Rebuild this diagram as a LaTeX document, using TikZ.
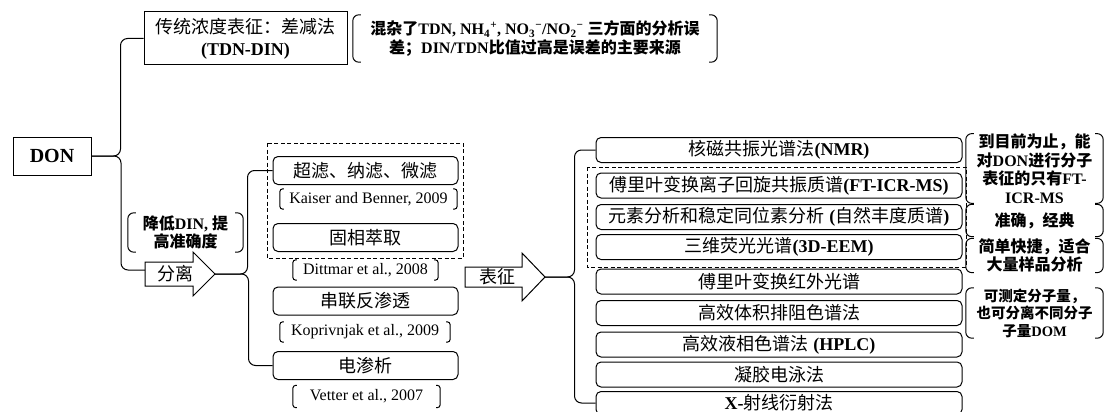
\documentclass[tikz,border=0pt]{standalone}
\usepackage{fontspec}
\setmainfont{Liberation Serif}
\newfontfamily\cjk{Noto Sans CJK SC}
\newcommand\zh[1]{{\cjk #1}}
\tikzset{
 sbox/.style={draw, line width=1pt, inner sep=0pt, align=center},
 rbox/.style={draw, line width=1pt, rounded corners=5pt, inner sep=0pt, font=\fontsize{18}{21}\selectfont},
 lbox/.style={rbox, minimum width=185pt, minimum height=28pt},
 rcol/.style={rbox, minimum width=366pt, minimum height=25pt},
 note/.style={inner sep=0pt, align=center, font=\bfseries\fontsize{16}{18.5}\selectfont},
 smallnote/.style={inner sep=0pt, align=center, font=\bfseries\fontsize{14.5}{17.5}\selectfont},
 cite/.style={inner sep=0pt, font=\fontsize{16}{18}\selectfont},
 paren/.style={line width=1pt, rounded corners=6pt},
 cparen/.style={line width=1pt, rounded corners=3pt},
 conn/.style={line width=1pt, rounded corners=7pt},
 frame/.style={line width=1pt, dash pattern=on 4pt off 2.5pt},
 arrowshape/.style={draw, line width=1pt, line join=miter},
 arrowtext/.style={inner sep=0pt, font=\fontsize{18}{21}\selectfont}
}
% brackets around a node: #1 style, #2 node, #3 hook length
\newcommand\brk[3]{%
 \draw[#1] ([xshift=#3]#2.north west) -- (#2.north west) -- (#2.south west) -- ([xshift=#3]#2.south west);
 \draw[#1] ([xshift=-#3]#2.north east) -- (#2.north east) -- (#2.south east) -- ([xshift=-#3]#2.south east);}
\begin{document}
\begin{tikzpicture}[x=1pt,y=-1pt]
\useasboundingbox (0,0) rectangle (1106,412);
\clip (0,0) rectangle (1106,412);

% root and traditional method
\node[sbox, minimum width=78pt, minimum height=38pt, font=\bfseries\fontsize{20}{24}\selectfont] (don) at (52,156) {DON};
\node[sbox, minimum width=203pt, minimum height=53pt, font=\fontsize{18}{22}\selectfont] (trad) at (245.5,38.5) {\zh{传统浓度表征：差减法}\\\textbf{(TDN-DIN)}};
\node[note, minimum width=364pt, minimum height=47pt] (n1) at (535,38.5) {\zh{混杂了}TDN, NH\textsubscript{4}\textsuperscript{+}, NO\textsubscript{3}\textsuperscript{−}/NO\textsubscript{2}\textsuperscript{−} \zh{三方面的分析误}\\\zh{差；}DIN/TDN\zh{比值过高是误差的主要来源}};
\brk{paren}{n1}{8pt}

% separation arrow
\draw[arrowshape] (145,262) -- (193,262) -- (193,252) -- (215,274) -- (193,296) -- (193,286) -- (145,286) -- cycle;
\node[arrowtext] (sep) at (175,274) {\zh{分离}};
\coordinate (sepin) at (145,270);
\coordinate (septip) at (215,274);
\node[note, minimum width=115pt, minimum height=39pt] (n2) at (185.5,232.5) {\zh{降低}DIN, \zh{提}\\\zh{高准确度}};
\brk{paren}{n2}{8pt}

% separation methods
\draw[frame] (267,143) rectangle (463,258);
\node[lbox] (f1) at (365.5,170.5) {\zh{超滤、纳滤、微滤}};
\node[cite, minimum width=177pt, minimum height=20pt] (c1) at (368.5,199) {Kaiser and Benner, 2009};
\brk{cparen}{c1}{4pt}
\node[lbox] (f2) at (365.5,237.5) {\zh{固相萃取}};
\node[cite, minimum width=145pt, minimum height=20pt] (c2) at (365.5,270) {Dittmar et al., 2008};
\brk{cparen}{c2}{4pt}
\node[lbox] (f3) at (365.5,301) {\zh{串联反渗透}};
\node[cite, minimum width=170pt, minimum height=20pt] (c3) at (365,332) {Koprivnjak et al., 2009};
\brk{cparen}{c3}{4pt}
\node[lbox] (f4) at (365.5,365.5) {\zh{电渗析}};
\node[cite, minimum width=147pt, minimum height=22pt] (c4) at (366.5,396.5) {Vetter et al., 2007};
\brk{cparen}{c4}{4pt}

% characterisation arrow
\draw[arrowshape] (465,267) -- (522,267) -- (522,253) -- (545,277) -- (522,301) -- (522,287) -- (465,287) -- cycle;
\node[arrowtext] (char) at (497,277) {\zh{表征}};
\coordinate (chartip) at (545,277);

% characterisation methods
\draw[frame] (587,167) rectangle (966,267);
\node[rcol] (r1) at (779,150) {\zh{核磁共振光谱法}\textbf{(NMR)}};
\node[rcol] (r2) at (779,185.5) {\zh{傅里叶变换离子回旋共振质谱}\textbf{(FT-ICR-MS)}};
\node[rcol] (r3) at (779,217) {\zh{元素分析和稳定同位素分析} \textbf{(}\zh{自然丰度质谱}\textbf{)}};
\node[rcol] (r4) at (779,247) {\zh{三维荧光光谱}\textbf{(3D-EEM)}};
\node[rcol] (r5) at (779,281.5) {\zh{傅里叶变换红外光谱}};
\node[rcol] (r6) at (779,313) {\zh{高效体积排阻色谱法}};
\node[rcol] (r7) at (779,344.5) {\zh{高效液相色谱法} \textbf{(HPLC)}};
\node[rcol] (r8) at (779,374.5) {\zh{凝胶电泳法}};
\node[rcol, minimum height=23pt] (r9) at (779,403) {\textbf{X-}\zh{射线衍射法}};

% right notes
\node[note, minimum width=137pt, minimum height=66pt] (m1) at (1034.5,168.5) {\zh{到目前为止，能}\\\zh{对}DON\zh{进行分子}\\\zh{表征的只有}FT-\\ICR-MS};
\brk{paren}{m1}{8pt}
\node[note, minimum width=137pt, minimum height=32pt] (m2) at (1034.5,220.5) {\zh{准确，经典}};
\brk{paren}{m2}{8pt}
\node[note, minimum width=137pt, minimum height=31pt] (m3) at (1034.5,255.5) {\zh{简单快捷，适合}\\\zh{大量样品分析}};
\brk{paren}{m3}{8pt}
\node[smallnote, minimum width=137pt, minimum height=50pt] (m4) at (1034.5,313) {\zh{可测定分子量，}\\\zh{也可分离不同分子}\\\zh{子量}DOM};
\brk{paren}{m4}{8pt}

% braces
\draw[conn] (don.east) -| ([xshift=-23pt]trad.west) -- (trad.west);
\draw[conn] (don.east) -| ([xshift=-24pt]sepin) -- (sepin);
\draw[conn] (septip) -| ([xshift=-25pt]f1.west) -- (f1.west);
\draw[conn] (septip) -| ([xshift=-24pt]f4.west) -- (f4.west);
\draw[conn] (chartip) -| ([xshift=-21pt]r1.west) -- (r1.west);
\draw[conn] (chartip) -| ([xshift=-21pt]r9.west) -- (r9.west);
\end{tikzpicture}
\end{document}
